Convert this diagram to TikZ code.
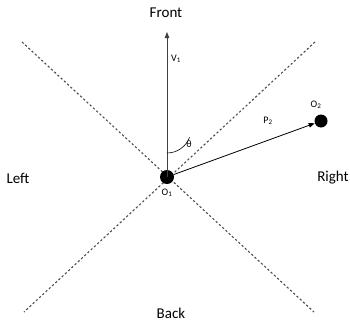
\documentclass[tikz,border=0pt]{standalone}
\usepackage{fontspec}
\setmainfont{Carlito}
\usepackage{tikz}
\usetikzlibrary{arrows.meta,positioning,calc}

\begin{document}
\begin{tikzpicture}[x=1pt, y=-1pt, every node/.style={font=\fontsize{15}{17}\selectfont}]
\tikzset{dot/.style={circle, fill=black, inner sep=0pt}}
\tikzset{small/.style={font=\fontsize{10}{12}\selectfont, inner sep=1pt}}
\tikzset{guide/.style={dash pattern=on 2.2pt off 2.2pt, line width=1.1pt, draw=black!70}}
\tikzset{arrow/.style={-{Triangle[length=6pt, width=4.5pt]}, line width=0.8pt}}
\useasboundingbox (0,0) rectangle (350,324);
% diagonal guide lines
\coordinate (tl) at (22,42);
\coordinate (br) at (314,312);
\coordinate (tr) at (315,42);
\coordinate (bl) at (24,312);
\draw[guide] (tl) -- (br);
\draw[guide] (tr) -- (bl);
% observers
\node[dot, minimum width=13pt, minimum height=14pt] (o1) at (167,177) {};
\node[dot, minimum width=12pt, minimum height=13pt] (o2) at (321,121) {};
\coordinate (vtip) at (167,32);
\draw[arrow, draw=black!75] (o1.center) -- (vtip);
\draw[arrow] (o1) -- (o2);
\draw[line width=0.6pt] ($(o1.center)+(0,-24)$) arc[start angle=90, end angle=20.4, radius=24];
% labels
\node (front) at (166,13) {Front};
\node (back) at (171,313) {Back};
\node (left) at (18,178) {Left};
\node (right) at (333,178) {Right};
\node[small] (v1) at (176,59) {V\textsubscript{1}};
\node[small] (theta) at (189,144) {θ};
\node[small] (p2) at (268,121) {P\textsubscript{2}};
\node[small] (o2lbl) at (316,105) {O\textsubscript{2}};
\node[small] (o1lbl) at (167,193) {O\textsubscript{1}};
\end{tikzpicture}
\end{document}
